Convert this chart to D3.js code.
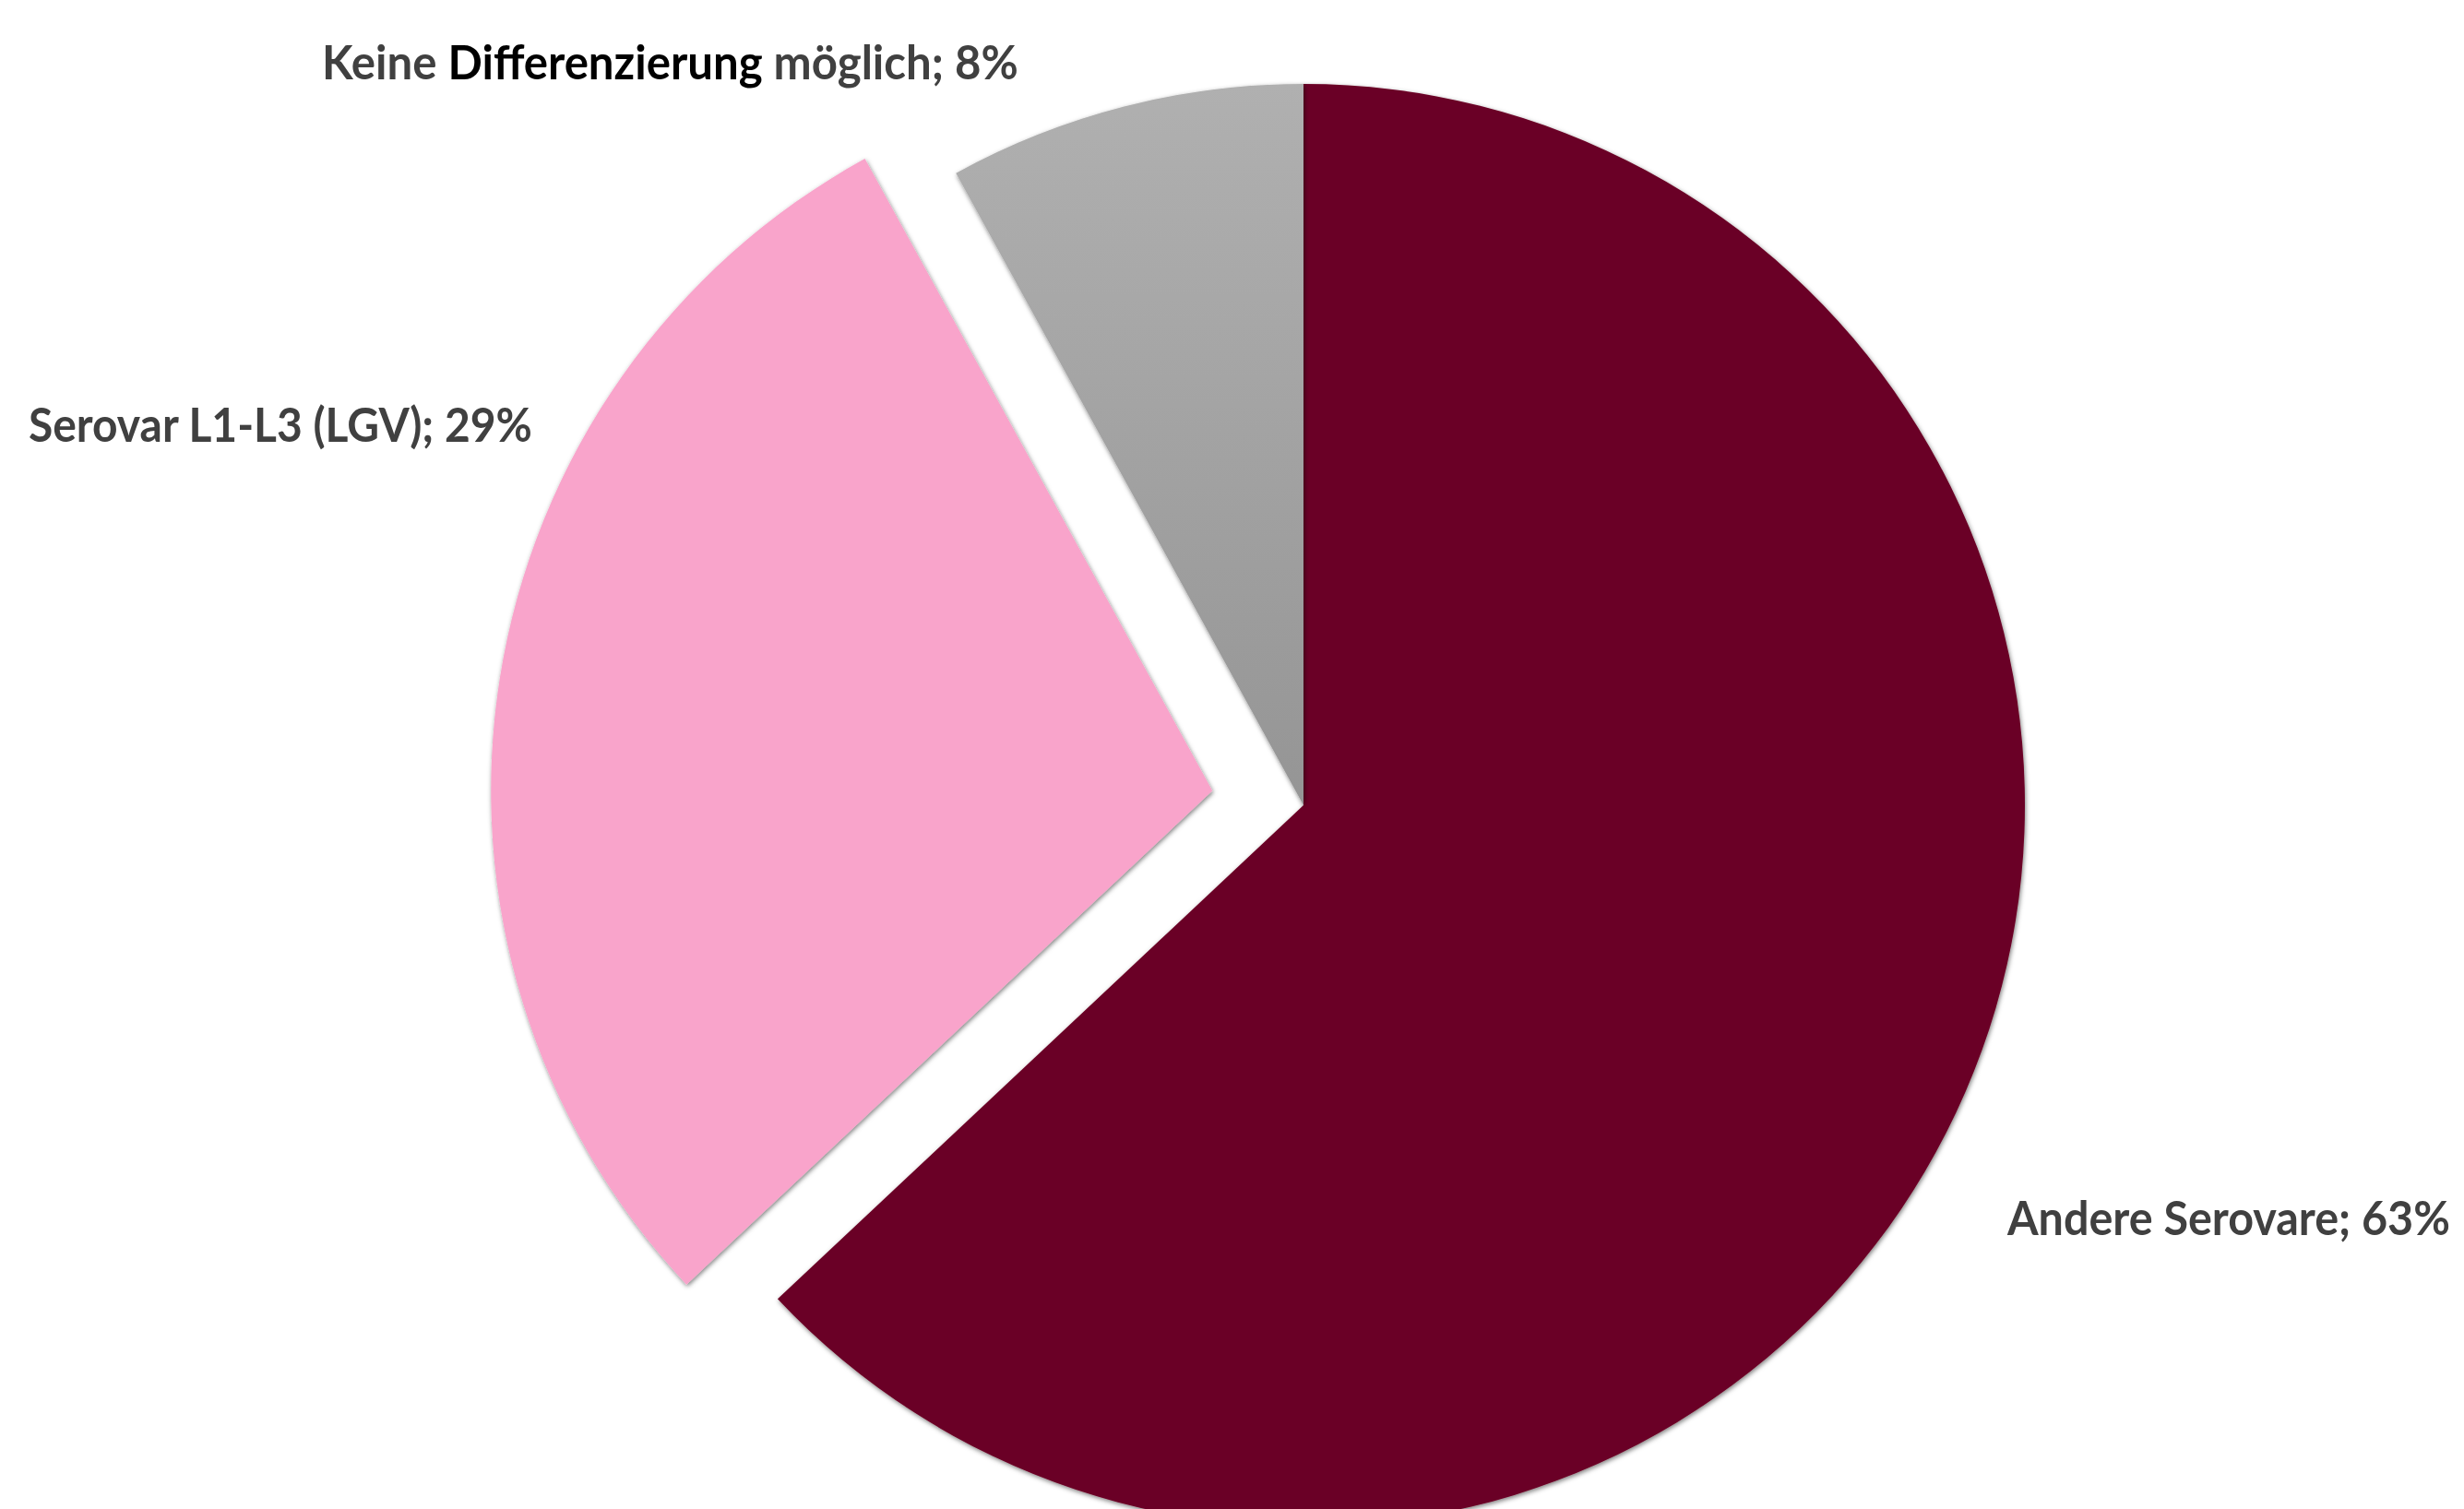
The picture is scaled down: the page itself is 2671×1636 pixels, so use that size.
<!DOCTYPE html>
<html>
<head>
<meta charset="utf-8">
<script src="https://cdn.jsdelivr.net/npm/d3@7"></script>
<style>
  body { margin: 0; background: #fff; }
  svg { display: block; }
</style>
</head>
<body>
<div id="chart"></div>
<script>
// data
var categories = ["Andere Serovare", "Serovar L1-L3 (LGV)", "Keine Differenzierung möglich"];
var values = [63, 29, 8];
var colors = ["#6b0026", "#f9a4cb", "url(#grayGrad)"];
var exploded = [0, 100, 0];

var width = 2671,
    height = 1636,
    cx = 1413,
    cy = 873,
    radius = 782;

var svg = d3.select("#chart")
    .append("svg")
    .attr("width", width)
    .attr("height", height);

var defs = svg.append("defs");

var shadow = defs.append("filter")
    .attr("id", "shadow")
    .attr("x", "-10%").attr("y", "-10%")
    .attr("width", "120%").attr("height", "120%");
shadow.append("feDropShadow")
    .attr("dx", 1)
    .attr("dy", 2)
    .attr("stdDeviation", 2.5)
    .attr("flood-color", "#000")
    .attr("flood-opacity", 0.5);

var grad = defs.append("linearGradient")
    .attr("id", "grayGrad")
    .attr("gradientUnits", "userSpaceOnUse")
    .attr("x1", 0).attr("y1", -radius)
    .attr("x2", 0).attr("y2", 0);
grad.append("stop").attr("offset", "0%").attr("stop-color", "#b0b0b0");
grad.append("stop").attr("offset", "100%").attr("stop-color", "#959595");

var pie = d3.pie()
    .sort(null)
    .value(d => d);

var arc = d3.arc()
    .innerRadius(0)
    .outerRadius(radius);

var arcs = pie(values);

var g = svg.append("g")
    .attr("transform", "translate(" + cx + "," + cy + ")");

g.selectAll("path")
    .data(arcs)
    .join("path")
    .attr("d", arc)
    .attr("fill", (d, i) => colors[i])
    .attr("filter", "url(#shadow)")
    .attr("transform", function(d, i) {
        var a = (d.startAngle + d.endAngle) / 2;
        var off = exploded[i];
        return "translate(" + (Math.sin(a) * off) + "," + (-Math.cos(a) * off) + ")";
    });

// labels (squeezed horizontally to mimic the narrower Calibri)
var labelPos = [
    { x: 2176, y: 1339, w: 480 },
    { x: 31, y: 479, w: 546 },
    { x: 349, y: 86, w: 755 }
];

var labels = svg.append("g")
    .style("font-family", "Lato, 'Open Sans', sans-serif")
    .style("font-weight", 700)
    .style("font-size", "52px")
    .attr("fill", "#404040");

arcs.forEach(function(d, i) {
    var p = labelPos[i];
    var t = labels.append("text");
    var pct = "; " + Math.round(values[i]) + "%";
    if (i === 2) {
        var parts = categories[i].split(" ");
        t.append("tspan").text(parts[0] + " ");
        t.append("tspan").attr("fill", "#000").text(parts[1]);
        t.append("tspan").text(" " + parts[2] + pct);
    } else {
        t.text(categories[i] + pct);
    }
    var natural = t.node().getComputedTextLength();
    var sx = p.w / natural;
    t.attr("transform", "translate(" + p.x + "," + p.y + ") scale(" + sx + ",1)");
});
</script>
</body>
</html>
